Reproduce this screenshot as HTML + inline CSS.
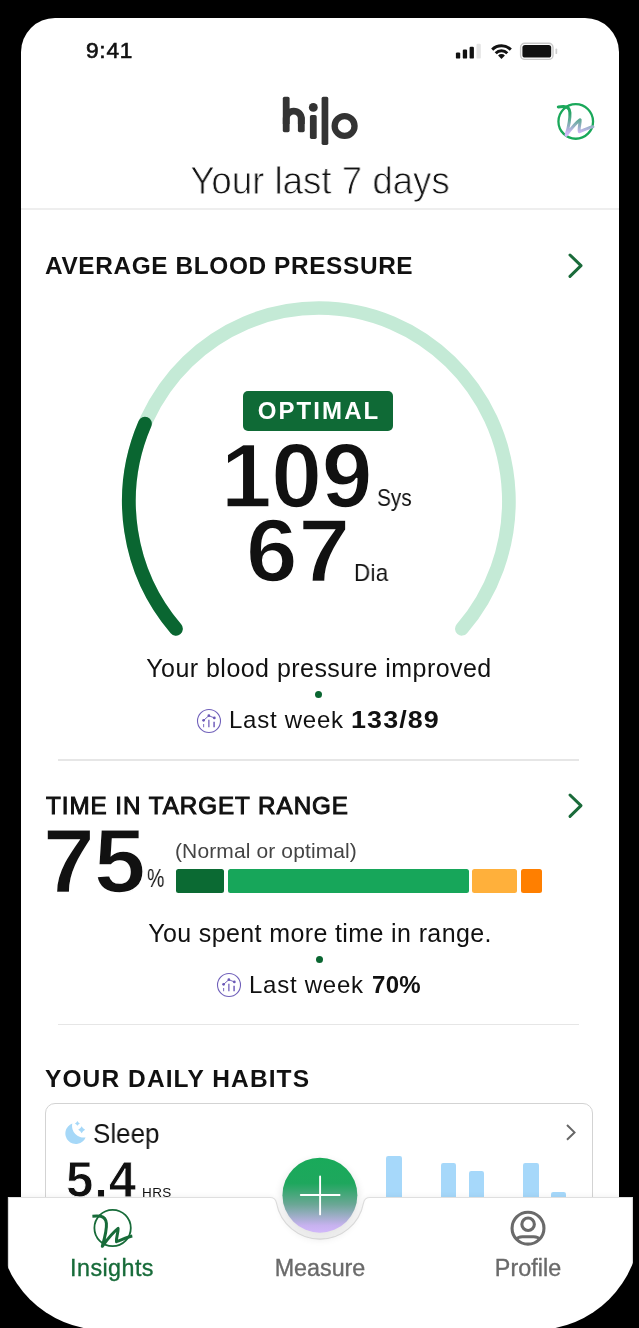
<!DOCTYPE html>
<html><head><meta charset="utf-8"><title>hilo</title>
<style>
html,body{margin:0;padding:0;background:#000;}
body{width:639px;height:1328px;position:relative;overflow:hidden;font-family:"Liberation Sans", sans-serif;}
.abs{position:absolute;}
.t{position:absolute;white-space:nowrap;font-family:"Liberation Sans", sans-serif;will-change:transform;}
#screen{position:absolute;left:21px;top:18px;width:598px;height:1184px;background:#fff;border-radius:34px 34px 0 0;}
.dot{width:7px;height:7px;border-radius:50%;background:#0a6631;}
#navclip{position:absolute;left:-1.4px;top:1150px;width:641.8px;height:179.8px;border-radius:0 0 105px 105px;overflow:hidden;}
</style></head><body>
<div id="screen"></div>
<span class="t" style="left:86.40px;top:40.47px;font-size:22.6px;line-height:22.6px;font-weight:normal;color:#111;letter-spacing:0.8px;-webkit-text-stroke:0.65px #111;">9:41</span>
<svg class="abs" style="left:450px;top:38px" width="115" height="26" viewBox="450 38 115 26">
<rect x="455.9" y="52.4" width="4.3" height="6.2" rx="1.2" fill="#111"/>
<rect x="462.8" y="49.6" width="4.3" height="9" rx="1.2" fill="#111"/>
<rect x="469.6" y="46.7" width="4.3" height="11.9" rx="1.2" fill="#111"/>
<rect x="476.5" y="43.8" width="4.3" height="14.8" rx="1.2" fill="#e4e4e4"/>
<g fill="none" stroke="#111" stroke-width="3.0" stroke-linecap="butt">
<path d="M492.2 49.6 A13.4 13.4 0 0 1 510.8 49.6"/>
<path d="M495.7 53.2 A8.3 8.3 0 0 1 507.3 53.2"/>
</g>
<path d="M501.5 58.9 L498.1 55.4 A4.8 4.8 0 0 1 504.9 55.4 Z" fill="#111"/>
<rect x="520.6" y="43.2" width="32.4" height="16.2" rx="4.2" fill="none" stroke="#c9c9c9" stroke-width="1.4"/>
<rect x="522.4" y="45" width="28.8" height="12.6" rx="2.6" fill="#111"/>
<rect x="555.5" y="48.5" width="1.7" height="5.6" rx="0.85" fill="#cfcfcf"/>
</svg>
<svg class="abs" style="left:275px;top:90px" width="90" height="62" viewBox="275 90 90 62">
<g fill="#333">
<rect x="282.8" y="96.7" width="6.8" height="35.6" rx="1.7"/>
<rect x="297.9" y="116" width="6.8" height="16.3" rx="1.7"/>
<rect x="309.9" y="115" width="6.8" height="24" rx="1.7"/>
<rect x="321.6" y="96.7" width="6.7" height="48.3" rx="1.7"/>
<circle cx="313.3" cy="107.4" r="4.45"/>
</g>
<path d="M286.2 124 V118.6 A7.55 7.55 0 0 1 301.3 118.6 V124" fill="none" stroke="#333" stroke-width="6.8"/>
<circle cx="344.6" cy="126" r="9.95" fill="none" stroke="#333" stroke-width="6.3"/>
</svg>
<svg class="abs" style="left:550px;top:96px" width="52" height="52" viewBox="550 96 52 52">
<defs><linearGradient id="g1" x1="0" y1="106" x2="0" y2="136" gradientUnits="userSpaceOnUse">
<stop offset="0" stop-color="#1aa85a"/><stop offset="0.25" stop-color="#2aa568"/><stop offset="0.9" stop-color="#cfb6f6"/><stop offset="1" stop-color="#d4bbfa"/></linearGradient></defs>
<circle cx="575.75" cy="121.45" r="17.3" fill="none" stroke="#1aa85a" stroke-width="2.3"/>
<path d="M558.3 106.9 L563.3 106.6 C567.4 106.5 569.6 108.6 569.9 112.6 C570.3 119.6 568.3 128 566.1 135.3 C570.5 129.5 575.5 123 580.1 119.8 C580.4 123.5 578.4 128.8 579.4 131.7 C583.5 130.4 588.5 127.4 592.9 126.7" fill="none" stroke="url(#g1)" stroke-width="3.05" stroke-linecap="round" stroke-linejoin="round"/>
</svg>
<span class="t" style="left:319.80px;transform:translateX(-50%);top:161.86px;font-size:38.8px;line-height:38.8px;font-weight:normal;color:#111;letter-spacing:0px;transform:translateX(-50%) scaleX(0.945);-webkit-text-stroke:0.9px #fff;">Your last 7 days</span>
<div class="abs" style="left:21px;top:208.1px;width:598px;height:1.8px;background:#eeeeee"></div>
<span class="t" style="left:44.80px;top:254.35px;font-size:24.4px;line-height:24.4px;font-weight:bold;color:#111;letter-spacing:0.62px;">AVERAGE BLOOD PRESSURE</span>
<svg class="abs" style="left:567.0px;top:251.90000000000003px" width="17" height="27.4" viewBox="-8.5 -13.7 17 27.4"><path d="M-5.5 -10.7 L5.5 0 L-5.5 10.7" fill="none" stroke="#1a6b3a" stroke-width="3.0" stroke-linecap="round" stroke-linejoin="round"/></svg>
<svg class="abs" style="left:100px;top:290px" width="440" height="360" viewBox="100 290 440 360">
<path d="M175.94 628.79 A190.0 193.4 0 1 1 461.86 628.79" fill="none" stroke="#c4ead6" stroke-width="13.7" stroke-linecap="round"/>
<path d="M175.94 628.79 A190.0 193.4 0 0 1 144.92 423.66" fill="none" stroke="#0a6631" stroke-width="13.8" stroke-linecap="round"/>
</svg>
<div class="abs" style="left:243.4px;top:391px;width:149.4px;height:39.6px;border-radius:5px;background:#0f6a36"></div>
<span class="t" style="left:318.80px;transform:translateX(-50%);top:399.28px;font-size:24px;line-height:24px;font-weight:bold;color:#fff;letter-spacing:2.1px;">OPTIMAL</span>
<span class="t" style="left:220.60px;top:429.50px;font-size:91.2px;line-height:91.2px;font-weight:bold;color:#111;letter-spacing:-0.4px;-webkit-text-stroke:1.5px #fff;">109</span>
<span class="t" style="left:377.20px;top:486.59px;font-size:23.4px;line-height:23.4px;font-weight:normal;color:#111;letter-spacing:0px;transform:scaleX(0.89);transform-origin:0 0;">Sys</span>
<span class="t" style="left:245.80px;top:506.92px;font-size:88.7px;line-height:88.7px;font-weight:bold;color:#111;letter-spacing:0.8px;transform:scaleX(1.045);transform-origin:0 0;-webkit-text-stroke:1.5px #fff;">67</span>
<span class="t" style="left:354.40px;top:562.19px;font-size:23.4px;line-height:23.4px;font-weight:normal;color:#111;letter-spacing:0.3px;transform:scaleX(0.955);transform-origin:0 0;">Dia</span>
<span class="t" style="left:319.00px;transform:translateX(-50%);top:656.24px;font-size:25px;line-height:25px;font-weight:normal;color:#111;letter-spacing:0.46px;">Your blood pressure improved</span>
<div class="abs dot" style="left:315.3px;top:691px"></div>
<svg class="abs" style="left:194.9px;top:706.6px" width="28" height="28" viewBox="-14 -14 28 28">
<circle cx="0" cy="0" r="11.5" fill="#fff" stroke="#7060ba" stroke-width="1.1"/>
<g stroke="#8878c6" stroke-linecap="butt" fill="none">
<path d="M-5.4 3 V6.2" stroke-width="1.1"/><path d="M-0.15 -1.3 V6.2" stroke-width="1.5"/><path d="M5.1 0.7 V6.2" stroke-width="1.8"/></g>
<path d="M-5.4 -0.65 L-0.15 -5.3 L5.35 -3.05" stroke="#6a58b6" stroke-width="0.9" fill="none"/>
<circle cx="-0.15" cy="-5.3" r="1.35" fill="#6a58b6"/><circle cx="-5.4" cy="-0.65" r="1.35" fill="#6a58b6"/><circle cx="5.35" cy="-3.05" r="1.35" fill="#6a58b6"/>
</svg>
<span class="t" style="left:229.00px;top:707.98px;font-size:24px;line-height:24px;font-weight:normal;color:#111;letter-spacing:0.75px;">Last week</span>
<span class="t" style="left:351.00px;top:707.98px;font-size:24px;line-height:24px;font-weight:bold;color:#111;letter-spacing:1.0px;transform:scaleX(1.12);transform-origin:0 0;">133/89</span>
<div class="abs" style="left:58.2px;top:759.4px;width:520.8px;height:1.25px;background:#e6e6e6"></div>
<span class="t" style="left:45.60px;top:794.41px;font-size:24.2px;line-height:24.2px;font-weight:normal;color:#111;letter-spacing:0.97px;-webkit-text-stroke:1.0px #111;">TIME IN TARGET RANGE</span>
<svg class="abs" style="left:567.0px;top:791.8px" width="17" height="27.4" viewBox="-8.5 -13.7 17 27.4"><path d="M-5.5 -10.7 L5.5 0 L-5.5 10.7" fill="none" stroke="#1a6b3a" stroke-width="3.0" stroke-linecap="round" stroke-linejoin="round"/></svg>
<span class="t" style="left:43.00px;top:815.28px;font-size:91.7px;line-height:91.7px;font-weight:bold;color:#111;letter-spacing:-0.8px;transform:scaleX(1.015);transform-origin:0 0;-webkit-text-stroke:1.5px #fff;">75</span>
<span class="t" style="left:147.20px;top:866.34px;font-size:25px;line-height:25px;font-weight:normal;color:#111;letter-spacing:0px;transform:scaleX(0.78);transform-origin:0 0;">%</span>
<span class="t" style="left:175.20px;top:840.42px;font-size:21px;line-height:21px;font-weight:normal;color:#444;letter-spacing:0.12px;">(Normal or optimal)</span>
<div class="abs" style="left:176px;top:869.2px;width:48.2px;height:23.6px;border-radius:2.5px;background:#0b6a33"></div>
<div class="abs" style="left:227.8px;top:869.2px;width:241.2px;height:23.6px;border-radius:2.5px;background:#17a65a"></div>
<div class="abs" style="left:472.4px;top:869.2px;width:44.9px;height:23.6px;border-radius:2.5px;background:#ffb03b"></div>
<div class="abs" style="left:520.8px;top:869.2px;width:21.4px;height:23.6px;border-radius:2.5px;background:#ff7f00"></div>
<span class="t" style="left:319.60px;transform:translateX(-50%);top:921.14px;font-size:25px;line-height:25px;font-weight:normal;color:#111;letter-spacing:0.38px;">You spent more time in range.</span>
<div class="abs dot" style="left:315.5px;top:956.2px"></div>
<svg class="abs" style="left:214.8px;top:970.9px" width="28" height="28" viewBox="-14 -14 28 28">
<circle cx="0" cy="0" r="11.5" fill="#fff" stroke="#7060ba" stroke-width="1.1"/>
<g stroke="#8878c6" stroke-linecap="butt" fill="none">
<path d="M-5.4 3 V6.2" stroke-width="1.1"/><path d="M-0.15 -1.3 V6.2" stroke-width="1.5"/><path d="M5.1 0.7 V6.2" stroke-width="1.8"/></g>
<path d="M-5.4 -0.65 L-0.15 -5.3 L5.35 -3.05" stroke="#6a58b6" stroke-width="0.9" fill="none"/>
<circle cx="-0.15" cy="-5.3" r="1.35" fill="#6a58b6"/><circle cx="-5.4" cy="-0.65" r="1.35" fill="#6a58b6"/><circle cx="5.35" cy="-3.05" r="1.35" fill="#6a58b6"/>
</svg>
<span class="t" style="left:248.60px;top:973.08px;font-size:24px;line-height:24px;font-weight:normal;color:#111;letter-spacing:0.75px;">Last week</span>
<span class="t" style="left:372.00px;top:973.08px;font-size:24px;line-height:24px;font-weight:bold;color:#111;letter-spacing:0.3px;">70%</span>
<div class="abs" style="left:58.2px;top:1023.9px;width:520.8px;height:1.25px;background:#e6e6e6"></div>
<span class="t" style="left:45.30px;top:1067.16px;font-size:24.5px;line-height:24.5px;font-weight:bold;color:#111;letter-spacing:1.1px;">YOUR DAILY HABITS</span>
<div class="abs" style="left:45.0px;top:1103.4px;width:548.0px;height:140px;border:1.6px solid #d3d3d3;border-radius:10px;box-sizing:border-box;background:#fff"></div>
<svg class="abs" style="left:60px;top:1116px" width="32" height="34" viewBox="60 1116 32 34">
<path d="M72.3 1123.6 A10.5 10.5 0 1 0 85.6 1137.4 A11.6 11.6 0 0 1 72.3 1123.6 Z" fill="#a6d8f8"/>
<path d="M81.65 1126.35 Q82.69 1128.76 85.10 1129.80 Q82.69 1130.84 81.65 1133.25 Q80.62 1130.84 78.20 1129.80 Q80.62 1128.76 81.65 1126.35Z" fill="#a6d8f8"/>
<path d="M77.40 1120.95 Q78.14 1122.67 79.85 1123.40 Q78.14 1124.13 77.40 1125.85 Q76.67 1124.13 74.95 1123.40 Q76.67 1122.67 77.40 1120.95Z" fill="#a6d8f8"/>
</svg>
<span class="t" style="left:92.90px;top:1120.04px;font-size:27.6px;line-height:27.6px;font-weight:normal;color:#111;letter-spacing:0px;transform:scaleX(0.94);transform-origin:0 0;">Sleep</span>
<span class="t" style="left:65.80px;top:1155.45px;font-size:49.2px;line-height:49.2px;font-weight:bold;color:#111;letter-spacing:0.9px;-webkit-text-stroke:0.9px #fff;">5.4</span>
<span class="t" style="left:142.40px;top:1185.77px;font-size:13.5px;line-height:13.5px;font-weight:normal;color:#111;letter-spacing:0.4px;">HRS</span>
<svg class="abs" style="left:564.3px;top:1122.3px" width="13.5" height="20.8" viewBox="-6.75 -10.4 13.5 20.8"><path d="M-3.75 -7.4 L3.75 0 L-3.75 7.4" fill="none" stroke="#666" stroke-width="2.0" stroke-linecap="butt" stroke-linejoin="miter"/></svg>
<div class="abs" style="left:386.4px;top:1155.8px;width:15.2px;height:44.2px;border-radius:2.2px 2.2px 0 0;background:#a6d8fa"></div>
<div class="abs" style="left:441.2px;top:1163.4px;width:15.2px;height:36.6px;border-radius:2.2px 2.2px 0 0;background:#a6d8fa"></div>
<div class="abs" style="left:468.5px;top:1170.8px;width:15.2px;height:29.2px;border-radius:2.2px 2.2px 0 0;background:#a6d8fa"></div>
<div class="abs" style="left:523.4px;top:1163.4px;width:15.2px;height:36.6px;border-radius:2.2px 2.2px 0 0;background:#a6d8fa"></div>
<div class="abs" style="left:550.7px;top:1191.8px;width:15.2px;height:8.2px;border-radius:2.2px 2.2px 0 0;background:#a6d8fa"></div>
<div id="navclip"><svg class="abs" style="left:0;top:0" width="642" height="200" viewBox="-1.4 1150 642 200">
<defs><filter id="sh" x="-5%" y="-20%" width="110%" height="140%"><feGaussianBlur stdDeviation="3.2"/></filter>
<filter id="sh2" x="-30%" y="-30%" width="160%" height="160%"><feGaussianBlur stdDeviation="4"/></filter>
<linearGradient id="g2" x1="0" y1="1157.7" x2="0" y2="1233" gradientUnits="userSpaceOnUse">
<stop offset="0" stop-color="#19aa5a"/><stop offset="0.34" stop-color="#1ea75d"/><stop offset="0.62" stop-color="#6aa795"/><stop offset="0.9" stop-color="#c7b2ef"/><stop offset="1" stop-color="#d2b8fb"/></linearGradient></defs>
<path d="M8.0 1197.55 L269.65 1197.55 A6.5 6.5 0 0 1 276.04 1202.87 A44.3 44.3 0 0 0 363.16 1202.87 A6.5 6.5 0 0 1 369.55 1197.55 L632.0 1197.55 L632.0 1340 L8.0 1340 Z" fill="#000" opacity="0.075" filter="url(#sh)"/>
<path d="M8.0 1197.55 L269.65 1197.55 A6.5 6.5 0 0 1 276.04 1202.87 A44.3 44.3 0 0 0 363.16 1202.87 A6.5 6.5 0 0 1 369.55 1197.55 L632.0 1197.55 L632.0 1340 L8.0 1340 Z" fill="#fff" stroke="#dfdfdf" stroke-width="1.1"/>
<circle cx="319.5" cy="1199.5" r="39" fill="#000" opacity="0.10" filter="url(#sh2)"/>
<circle cx="319.5" cy="1195.2" r="37.45" fill="url(#g2)"/>
<path d="M300.4 1195 H339.2 M319.7 1176.4 V1214.4" stroke="#fff" stroke-width="1.9" stroke-linecap="round" fill="none"/>
<circle cx="112.2" cy="1228" r="18.2" fill="none" stroke="#176b39" stroke-width="1.8"/>
<path d="M92 1216.2 C95 1216 98 1215.9 100.3 1216.3 C103.5 1217 105.6 1219.5 106 1223.4 C106.6 1230 104 1239 101.9 1246.3 C106.5 1240 112.5 1232.5 117.7 1228.4 C118 1232.5 115.5 1238 116.1 1241.7 C121 1240 127 1237 131.9 1236.1" fill="none" stroke="#176b39" stroke-width="3.0" stroke-linejoin="round"/>
<g fill="none" stroke="#6a6a6a" stroke-width="3.1">
<circle cx="527.6" cy="1228.2" r="15.95"/>
<circle cx="527.7" cy="1224.2" r="6.25"/>
<path d="M515.4 1239.8 C517.2 1237.3 519.4 1236.7 522 1236.7 H533.3 C535.9 1236.7 538.1 1237.3 539.9 1239.8"/>
</g>
</svg></div>
<span class="t" style="left:112.30px;transform:translateX(-50%);top:1257.08px;font-size:23.3px;line-height:23.3px;font-weight:normal;color:#176b39;letter-spacing:0.45px;-webkit-text-stroke:0.35px #176b39;">Insights</span>
<span class="t" style="left:319.80px;transform:translateX(-50%);top:1257.08px;font-size:23.3px;line-height:23.3px;font-weight:normal;color:#6a6a6a;letter-spacing:0.0px;-webkit-text-stroke:0.35px #6a6a6a;">Measure</span>
<span class="t" style="left:527.90px;transform:translateX(-50%);top:1257.08px;font-size:23.3px;line-height:23.3px;font-weight:normal;color:#6a6a6a;letter-spacing:0.05px;-webkit-text-stroke:0.35px #6a6a6a;">Profile</span>
</body></html>
